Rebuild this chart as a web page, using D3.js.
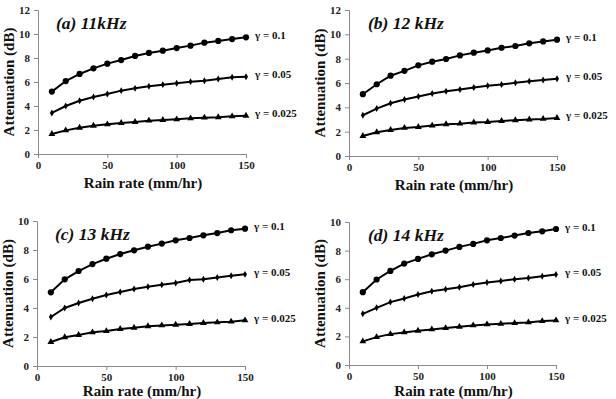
<!DOCTYPE html>
<html>
<head>
<meta charset="utf-8">
<script src="https://cdn.jsdelivr.net/npm/d3@7"></script>
<style>
  body { margin: 0; background: #fff; }
</style>
</head>
<body>
<script>
// rain rate in mm/hr, the same for every curve
const rainRate = [10, 20, 30, 40, 50, 60, 70, 80, 90, 100, 110, 120, 130, 140, 150];
const gammaLabels = ["\u03b3 = 0.1", "\u03b3 = 0.05", "\u03b3 = 0.025"];
const panelTitles = ["(a) 11kHz", "(b) 12 kHz", "(c) 13 kHz", "(d) 14 kHz"];
const yMax = [12, 12, 10, 10];
const xTicks = [0, 50, 100, 150];

// attenuation (dB)
const att11_g100 = [5.2, 6.08, 6.67, 7.14, 7.53, 7.83, 8.17, 8.42, 8.61, 8.83, 9.03, 9.28, 9.42, 9.58, 9.72];
const att11_g050 = [3.42, 4.0, 4.44, 4.75, 5.0, 5.28, 5.47, 5.64, 5.78, 5.89, 6.03, 6.11, 6.25, 6.39, 6.44];
const att11_g025 = [1.67, 1.97, 2.19, 2.36, 2.47, 2.58, 2.67, 2.78, 2.83, 2.89, 2.97, 3.03, 3.06, 3.14, 3.19];

const att12_g100 = [5.08, 5.9, 6.6, 7.0, 7.45, 7.75, 7.97, 8.27, 8.49, 8.68, 8.9, 9.04, 9.26, 9.42, 9.56];
const att12_g050 = [3.35, 3.9, 4.34, 4.64, 4.89, 5.14, 5.33, 5.47, 5.63, 5.77, 5.88, 6.02, 6.15, 6.24, 6.35];
const att12_g025 = [1.65, 1.95, 2.14, 2.31, 2.39, 2.5, 2.61, 2.66, 2.75, 2.8, 2.88, 2.94, 3.0, 3.05, 3.13];

const att13_g100 = [5.08, 5.98, 6.55, 7.03, 7.4, 7.72, 7.98, 8.23, 8.44, 8.67, 8.83, 9.01, 9.17, 9.36, 9.47];
const att13_g050 = [3.38, 4.0, 4.34, 4.64, 4.9, 5.1, 5.31, 5.47, 5.61, 5.72, 5.93, 5.98, 6.11, 6.23, 6.32];
const att13_g025 = [1.66, 1.98, 2.14, 2.32, 2.41, 2.55, 2.64, 2.74, 2.8, 2.85, 2.9, 2.97, 3.01, 3.06, 3.15];

const att14_g100 = [5.09, 5.98, 6.58, 7.09, 7.42, 7.74, 8.0, 8.26, 8.47, 8.72, 8.88, 9.05, 9.23, 9.35, 9.51];
const att14_g050 = [3.58, 4.0, 4.4, 4.65, 4.93, 5.16, 5.3, 5.44, 5.63, 5.77, 5.88, 6.0, 6.09, 6.21, 6.33];
const att14_g025 = [1.65, 1.95, 2.16, 2.28, 2.4, 2.49, 2.58, 2.67, 2.77, 2.84, 2.88, 2.93, 2.98, 3.07, 3.12];

const panelSeries = [
  [att11_g100, att11_g050, att11_g025],
  [att12_g100, att12_g050, att12_g025],
  [att13_g100, att13_g050, att13_g025],
  [att14_g100, att14_g050, att14_g025]
];

// plot frames (left, top, width, height) for the 4 panels
const frames = [
  {l: 38, t: 10, w: 208, h: 144},
  {l: 349, t: 10, w: 208, h: 146},
  {l: 37, t: 221, w: 208, h: 145},
  {l: 349, t: 222, w: 207, h: 143}
];

const symbols = [
  d3.symbol().type(d3.symbolCircle).size(30),
  d3.symbol().type(d3.symbolDiamond).size(14),
  d3.symbol().type(d3.symbolTriangle).size(20)
];

const axisColor = "#8a8a8a";
const serif = "Liberation Serif";

const svg = d3.select("body").append("svg")
  .attr("width", 616)
  .attr("height", 399)
  .attr("font-family", serif);

frames.forEach((f, p) => {
  const g = svg.append("g").attr("transform", "translate(" + f.l + "," + f.t + ")");

  const x = d3.scaleLinear().domain([0, 150]).range([0, f.w]);
  const y = d3.scaleLinear().domain([0, yMax[p]]).range([f.h, 0]);

  // axes
  const xa = g.append("g")
    .attr("transform", "translate(0," + f.h + ")")
    .call(d3.axisBottom(x).tickValues(xTicks).tickSize(4).tickPadding(3));
  const ya = g.append("g")
    .call(d3.axisLeft(y).ticks(yMax[p] / 2).tickSize(4).tickPadding(4));
  [xa, ya].forEach(a => {
    a.attr("font-family", serif);
    a.select(".domain").attr("stroke", axisColor).attr("stroke-width", 1);
    a.selectAll(".tick line").attr("stroke", axisColor);
    a.selectAll(".tick text")
      .attr("font-family", serif)
      .attr("fill", "#222")
      .attr("font-weight", "bold")
      .attr("font-size", 11);
  });

  // axis titles (bottom panels: kept just inside the page)
  g.append("text")
    .attr("x", f.w / 2 + 1)
    .attr("y", Math.min(f.h + 34, 396 - f.t))
    .attr("text-anchor", "middle")
    .attr("font-family", serif)
    .attr("font-weight", "bold")
    .attr("font-size", 15)
    .attr("fill", "#111")
    .text("Rain rate (mm/hr)");
  g.append("text")
    .attr("transform", "translate(-24," + (f.h / 2) + ") rotate(-90)")
    .attr("text-anchor", "middle")
    .attr("font-family", serif)
    .attr("font-weight", "bold")
    .attr("font-size", 15)
    .attr("fill", "#111")
    .text("Attenuation (dB)");

  // panel title
  g.append("text")
    .attr("x", p % 2 === 0 ? 18 : 19)
    .attr("y", 19)
    .attr("font-family", serif)
    .attr("font-weight", "bold")
    .attr("font-style", "italic")
    .attr("font-size", 17.5)
    .attr("fill", "#111")
    .text(panelTitles[p]);

  const line = d3.line()
    .x((d, i) => x(rainRate[i]))
    .y(d => y(d));

  panelSeries[p].forEach((vals, s) => {
    g.append("path")
      .datum(vals)
      .attr("fill", "none")
      .attr("stroke", "#000")
      .attr("stroke-width", 2)
      .attr("d", line);

    g.selectAll(null)
      .data(vals)
      .join("path")
      .attr("transform", (d, i) => "translate(" + x(rainRate[i]) + "," + y(d) + ")")
      .attr("d", symbols[s])
      .attr("fill", "#000");

    g.append("text")
      .attr("x", f.w + 9)
      .attr("y", y(vals[vals.length - 1]) - 1)
      .attr("dominant-baseline", "middle")
      .attr("font-family", serif)
      .attr("font-weight", "bold")
      .attr("font-size", 11)
      .attr("fill", "#111")
      .text(gammaLabels[s]);
  });
});
</script>
</body>
</html>
